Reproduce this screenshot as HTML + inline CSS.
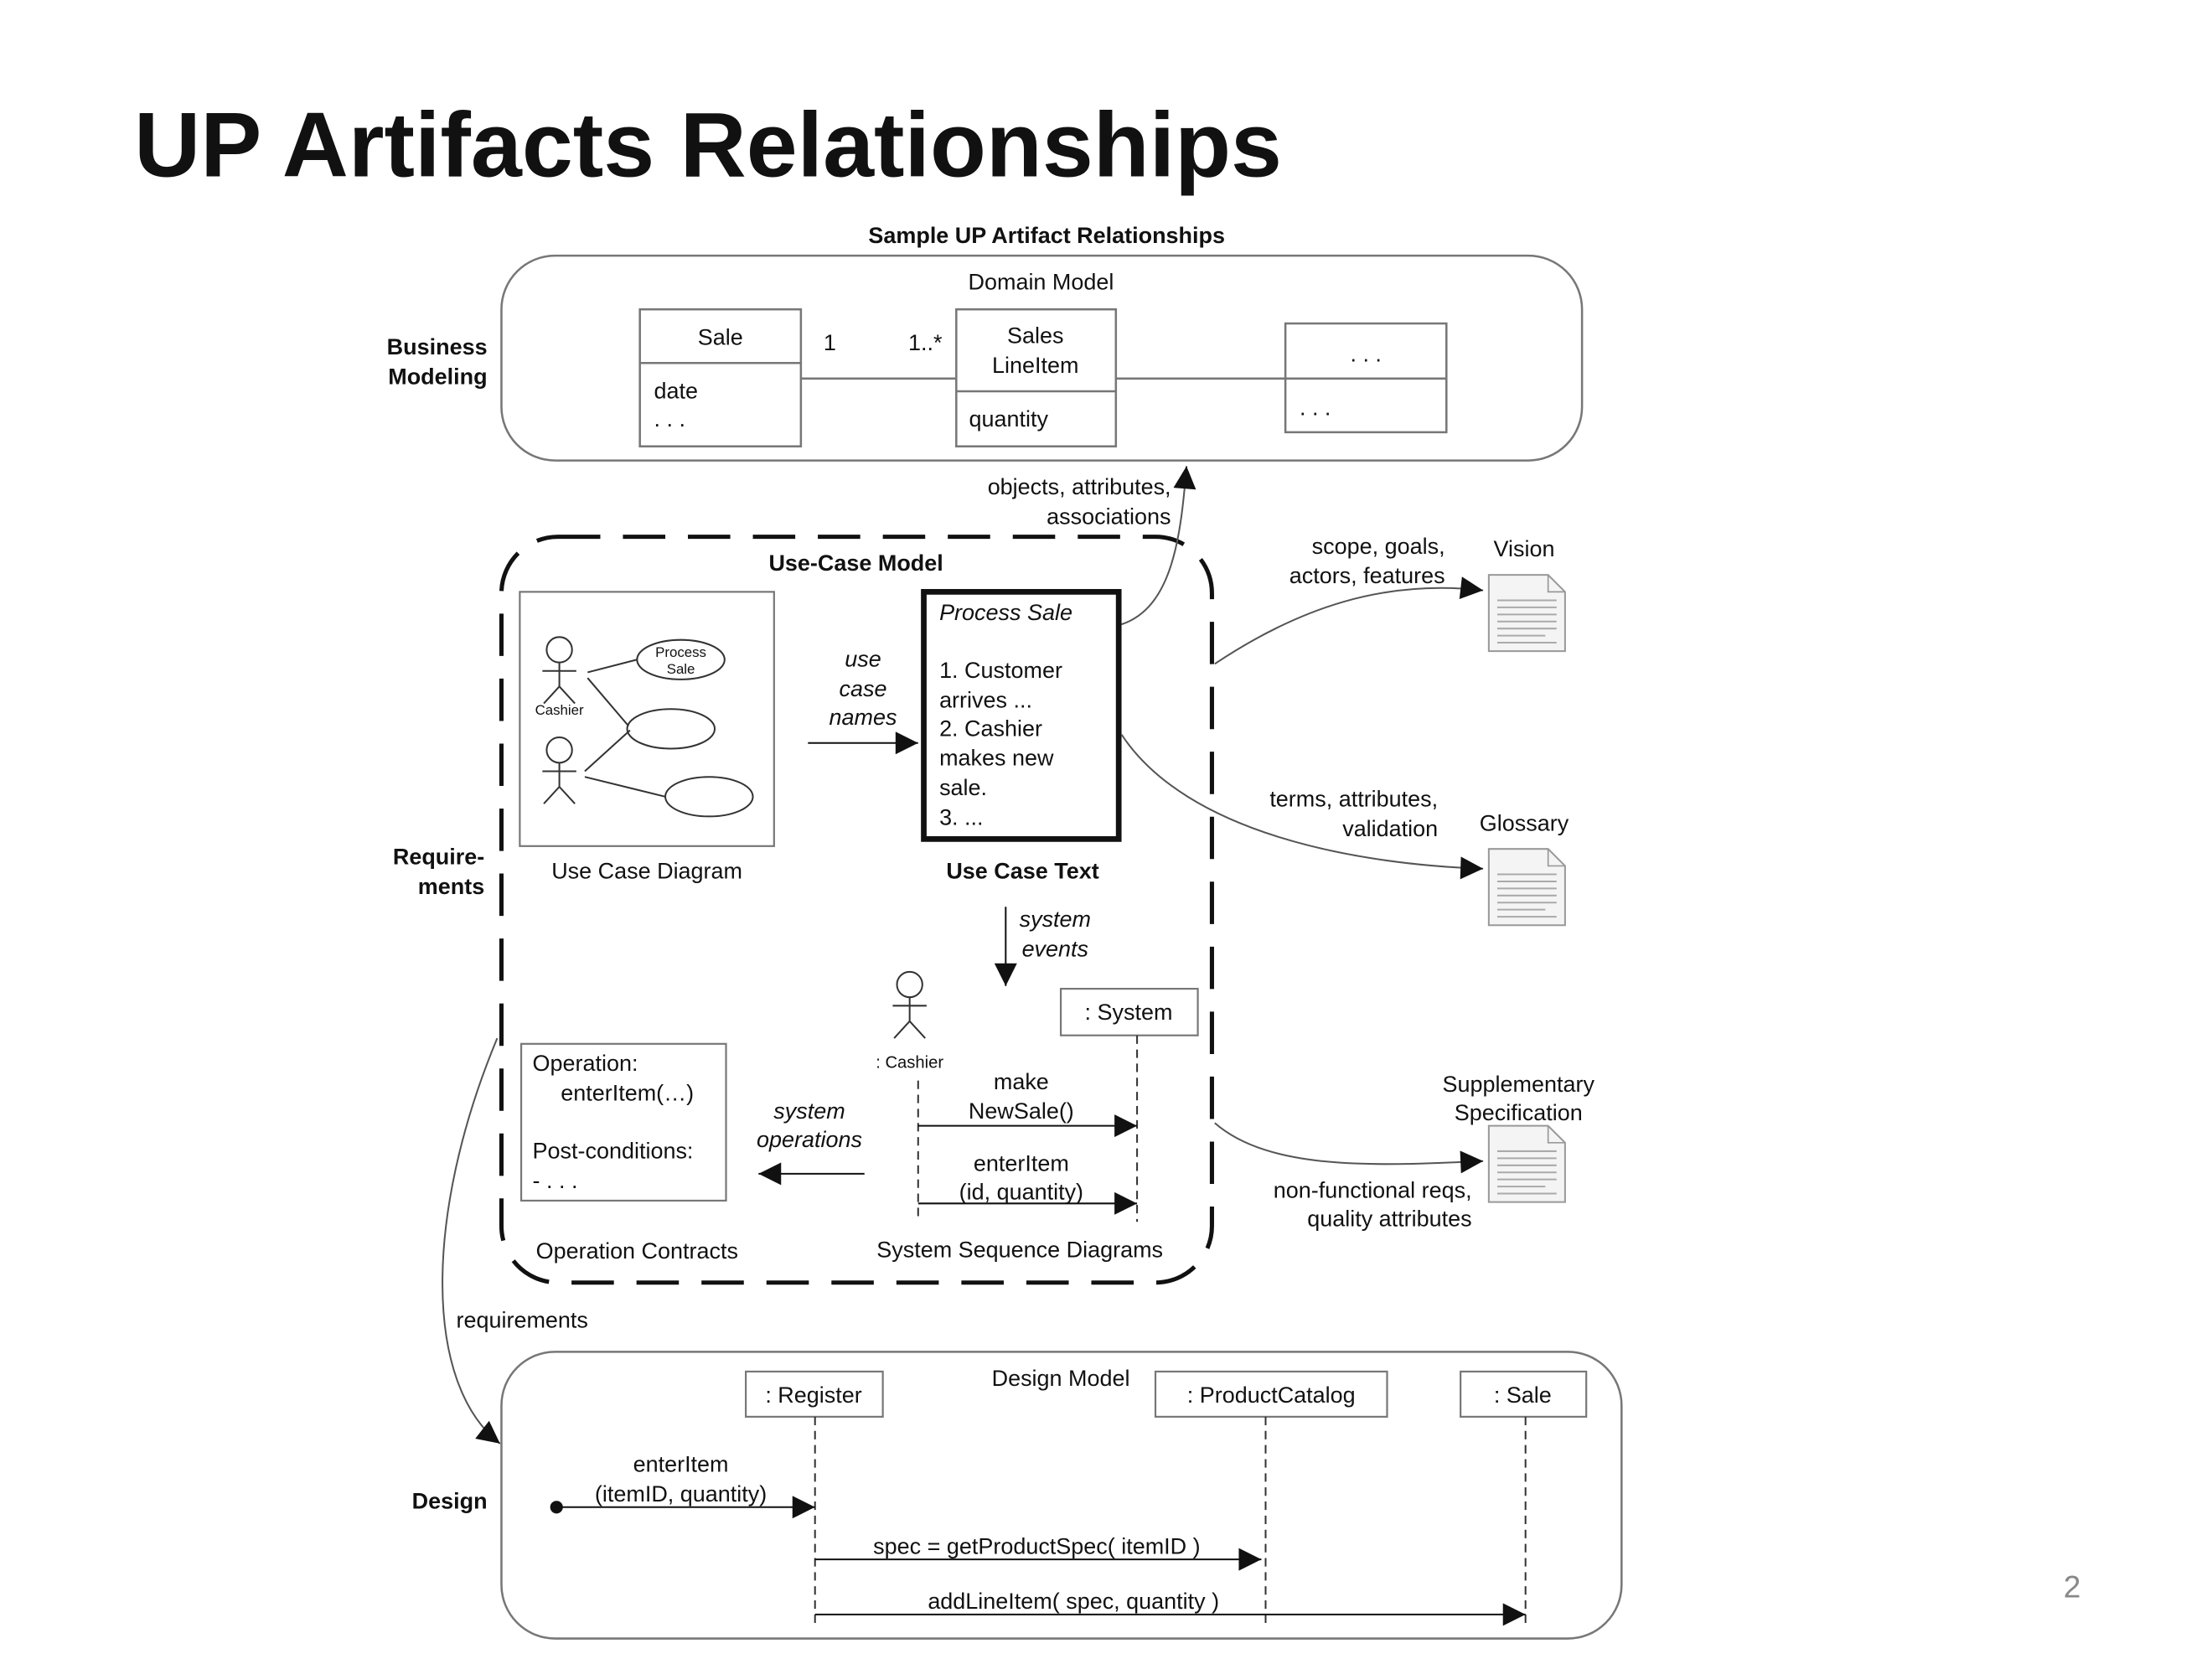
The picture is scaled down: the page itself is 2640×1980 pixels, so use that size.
<!DOCTYPE html>
<html><head><meta charset="utf-8"><style>
html,body{margin:0;padding:0;background:#fff;}
svg{display:block;}
text{font-family:"Liberation Sans",Arial,sans-serif;fill:#111;}
</style></head><body>
<svg width="2640" height="1980" viewBox="0 0 1566 1174.5" xmlns="http://www.w3.org/2000/svg">
<defs>
<marker id="b" viewBox="0 0 10 10" refX="10" refY="5" markerWidth="18" markerHeight="16" markerUnits="userSpaceOnUse" orient="auto"><path d="M0,0 L10,5 L0,10 z" fill="#111"/></marker>
<g id="doc"><path d="M0,0 H42 L54,12 V54 H0 Z" fill="#f4f4f4" stroke="#999" stroke-width="1.2"/><path d="M42,0 V12 H54" fill="none" stroke="#999"/>
<g stroke="#aaa" stroke-width="1.2"><line x1="6" y1="18" x2="48" y2="18"/><line x1="6" y1="23" x2="48" y2="23"/><line x1="6" y1="28" x2="48" y2="28"/><line x1="6" y1="33" x2="48" y2="33"/><line x1="6" y1="38" x2="48" y2="38"/><line x1="6" y1="43" x2="40" y2="43"/><line x1="6" y1="48" x2="48" y2="48"/></g></g>
<g id="actor" fill="none" stroke="#333" stroke-width="1.2"><circle cx="0" cy="0" r="9"/><line x1="0" y1="9" x2="0" y2="26"/><line x1="-12" y1="15" x2="12" y2="15"/><line x1="0" y1="26" x2="-11" y2="38"/><line x1="0" y1="26" x2="11" y2="38"/></g>
</defs>

<text x="95" y="125" font-size="65" font-weight="bold" fill="#000">UP Artifacts Relationships</text>
<text x="741" y="172" font-size="16" font-weight="bold" text-anchor="middle">Sample UP Artifact Relationships</text>

<g font-size="16" font-weight="bold" text-anchor="end">
<text x="345" y="251">Business</text><text x="345" y="272">Modeling</text>
<text x="343" y="612">Require-</text><text x="343" y="633">ments</text>
<text x="345" y="1068">Design</text>
</g>

<g fill="none" stroke="#777" stroke-width="1.5">
<rect x="355" y="181" width="765" height="145" rx="38"/>
<rect x="453" y="219" width="114" height="97"/><line x1="453" y1="257" x2="567" y2="257"/>
<rect x="677" y="219" width="113" height="97"/><line x1="677" y1="277" x2="790" y2="277"/>
<rect x="910" y="229" width="114" height="77"/><line x1="910" y1="268" x2="1024" y2="268"/>
<line x1="567" y1="268" x2="677" y2="268"/><line x1="790" y1="268" x2="910" y2="268"/>
</g>
<g font-size="16">
<text x="737" y="205" text-anchor="middle">Domain Model</text>
<text x="510" y="244" text-anchor="middle">Sale</text>
<text x="463" y="282">date</text><text x="463" y="302">. . .</text>
<text x="583" y="248">1</text><text x="643" y="248">1..*</text>
<text x="733" y="243" text-anchor="middle">Sales</text><text x="733" y="264" text-anchor="middle">LineItem</text>
<text x="686" y="302">quantity</text>
<text x="967" y="256" text-anchor="middle">. . .</text><text x="920" y="294">. . .</text>
</g>

<rect x="355" y="380" width="503" height="528" rx="40" fill="none" stroke="#111" stroke-width="3" stroke-dasharray="30,16"/>
<text x="606" y="404" font-size="16" font-weight="bold" text-anchor="middle">Use-Case Model</text>
<rect x="368" y="419" width="180" height="180" fill="none" stroke="#777" stroke-width="1.3"/>
<use href="#actor" x="396" y="460"/>
<use href="#actor" x="396" y="531"/>
<text x="396" y="506" font-size="10" text-anchor="middle">Cashier</text>
<g fill="none" stroke="#333" stroke-width="1.2">
<ellipse cx="482" cy="467" rx="31" ry="14"/><ellipse cx="475" cy="516" rx="31" ry="14"/><ellipse cx="502" cy="564" rx="31" ry="14"/>
<line x1="416" y1="476" x2="451" y2="467"/><line x1="416" y1="480" x2="445" y2="514"/>
<line x1="414" y1="546" x2="446" y2="517"/><line x1="414" y1="550" x2="471" y2="564"/>
</g>
<text x="482" y="465" font-size="10" text-anchor="middle">Process</text><text x="482" y="477" font-size="10" text-anchor="middle">Sale</text>
<text x="458" y="622" font-size="16" text-anchor="middle">Use Case Diagram</text>

<g font-size="16" font-style="italic" text-anchor="middle">
<text x="611" y="472">use</text><text x="611" y="493">case</text><text x="611" y="513">names</text>
</g>
<line x1="572" y1="526" x2="650" y2="526" stroke="#111" stroke-width="1.2" marker-end="url(#b)"/>

<rect x="654" y="419" width="138" height="175" fill="#fff" stroke="#111" stroke-width="4"/>
<g font-size="16">
<text x="665" y="439" font-style="italic">Process Sale</text>
<text x="665" y="480">1. Customer</text><text x="665" y="501">arrives ...</text>
<text x="665" y="521">2. Cashier</text><text x="665" y="542">makes new</text>
<text x="665" y="563">sale.</text><text x="665" y="584">3. ...</text>
</g>
<text x="724" y="622" font-size="16" font-weight="bold" text-anchor="middle">Use Case Text</text>

<path d="M794,442 C830,430 836,380 840,330" fill="none" stroke="#555" stroke-width="1.2" marker-end="url(#b)"/>
<text x="829" y="350" font-size="16" text-anchor="end">objects, attributes,</text>
<text x="829" y="371" font-size="16" text-anchor="end">associations</text>

<g font-size="16" font-style="italic" text-anchor="middle"><text x="747" y="656">system</text><text x="747" y="677">events</text></g>
<line x1="712" y1="642" x2="712" y2="698" stroke="#111" stroke-width="1.2" marker-end="url(#b)"/>

<use href="#actor" x="644" y="697"/>
<text x="644" y="756" font-size="12" text-anchor="middle">: Cashier</text>
<rect x="751" y="700" width="97" height="33" fill="none" stroke="#777" stroke-width="1.3"/>
<text x="799" y="722" font-size="16" text-anchor="middle">: System</text>
<g stroke="#333" stroke-width="1.2" stroke-dasharray="6,4"><line x1="805" y1="733" x2="805" y2="865"/><line x1="650" y1="765" x2="650" y2="865"/></g>
<g font-size="16" text-anchor="middle">
<text x="723" y="771">make</text><text x="723" y="792">NewSale()</text>
<text x="723" y="829">enterItem</text><text x="723" y="849">(id, quantity)</text>
</g>
<line x1="650" y1="797" x2="805" y2="797" stroke="#111" stroke-width="1.2" marker-end="url(#b)"/>
<line x1="650" y1="852" x2="805" y2="852" stroke="#111" stroke-width="1.2" marker-end="url(#b)"/>
<g font-size="16" font-style="italic" text-anchor="middle"><text x="573" y="792">system</text><text x="573" y="812">operations</text></g>
<line x1="612" y1="831" x2="537" y2="831" stroke="#111" stroke-width="1.2" marker-end="url(#b)"/>

<rect x="369" y="739" width="145" height="111" fill="none" stroke="#777" stroke-width="1.3"/>
<g font-size="16"><text x="377" y="758">Operation:</text><text x="397" y="779">enterItem(…)</text><text x="377" y="820">Post-conditions:</text><text x="377" y="841">- . . .</text></g>
<text x="451" y="891" font-size="16" text-anchor="middle">Operation Contracts</text>
<text x="722" y="890" font-size="16" text-anchor="middle">System Sequence Diagrams</text>

<text x="1079" y="394" font-size="16" text-anchor="middle">Vision</text>
<use href="#doc" x="1054" y="407"/>
<path d="M860,470 C920,430 980,410 1050,418" fill="none" stroke="#555" stroke-width="1.2" marker-end="url(#b)"/>
<text x="1023" y="392" font-size="16" text-anchor="end">scope, goals,</text>
<text x="1023" y="413" font-size="16" text-anchor="end">actors, features</text>

<text x="1079" y="588" font-size="16" text-anchor="middle">Glossary</text>
<use href="#doc" x="1054" y="601"/>
<path d="M794,520 C840,590 960,612 1050,615" fill="none" stroke="#555" stroke-width="1.2" marker-end="url(#b)"/>
<text x="1018" y="571" font-size="16" text-anchor="end">terms, attributes,</text>
<text x="1018" y="592" font-size="16" text-anchor="end">validation</text>

<text x="1075" y="773" font-size="16" text-anchor="middle">Supplementary</text>
<text x="1075" y="793" font-size="16" text-anchor="middle">Specification</text>
<use href="#doc" x="1054" y="797"/>
<path d="M860,795 C900,830 980,825 1050,822" fill="none" stroke="#555" stroke-width="1.2" marker-end="url(#b)"/>
<text x="1042" y="848" font-size="16" text-anchor="end">non-functional reqs,</text>
<text x="1042" y="868" font-size="16" text-anchor="end">quality attributes</text>

<path d="M352,735 C300,860 300,980 354,1022" fill="none" stroke="#555" stroke-width="1.2" marker-end="url(#b)"/>
<text x="323" y="940" font-size="16">requirements</text>

<rect x="355" y="957" width="793" height="203" rx="38" fill="none" stroke="#777" stroke-width="1.5"/>
<text x="751" y="981" font-size="16" text-anchor="middle">Design Model</text>
<g fill="none" stroke="#777" stroke-width="1.3">
<rect x="528" y="971" width="97" height="32"/><rect x="818" y="971" width="164" height="32"/><rect x="1034" y="971" width="89" height="32"/>
</g>
<g font-size="16" text-anchor="middle"><text x="576" y="993">: Register</text><text x="900" y="993">: ProductCatalog</text><text x="1078" y="993">: Sale</text></g>
<g stroke="#333" stroke-width="1.2" stroke-dasharray="6,4">
<line x1="577" y1="1003" x2="577" y2="1152"/><line x1="896" y1="1003" x2="896" y2="1152"/><line x1="1080" y1="1003" x2="1080" y2="1152"/>
</g>
<circle cx="394" cy="1067" r="4.5" fill="#111"/>
<line x1="394" y1="1067" x2="577" y2="1067" stroke="#111" stroke-width="1.2" marker-end="url(#b)"/>
<g font-size="16" text-anchor="middle"><text x="482" y="1042">enterItem</text><text x="482" y="1063">(itemID, quantity)</text>
<text x="734" y="1100">spec = getProductSpec( itemID )</text><text x="760" y="1139">addLineItem( spec, quantity )</text></g>
<line x1="577" y1="1104" x2="893" y2="1104" stroke="#111" stroke-width="1.2" marker-end="url(#b)"/>
<line x1="577" y1="1143" x2="1080" y2="1143" stroke="#111" stroke-width="1.2" marker-end="url(#b)"/>

<text x="1467" y="1131" font-size="22" text-anchor="middle" style="fill:#888">2</text>
</svg>
</body></html>
